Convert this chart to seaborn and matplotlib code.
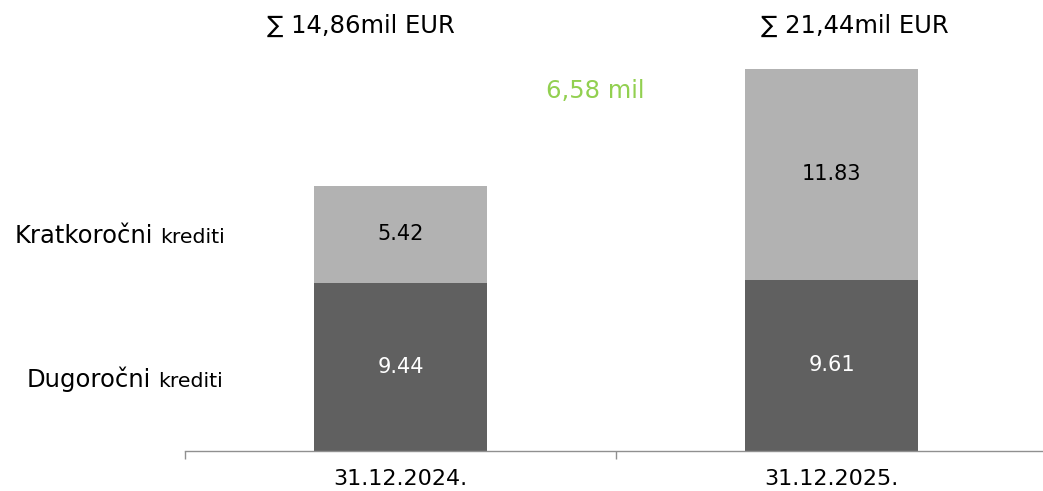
import matplotlib
matplotlib.use('Agg')
import matplotlib.pyplot as plt
import seaborn as sns
import pandas as pd

dates = ['31.12.2024.', '31.12.2025.']
dugorocni = [9.44, 9.61]
kratkorocni = [5.42, 11.83]
totals_txt = ['∑ 14,86mil EUR', '∑ 21,44mil EUR']
diff_txt = '6,58 mil'

dark = '#606060'
light = '#b2b2b2'
green = '#92d050'

df = pd.DataFrame({'date': dates, 'dugo': dugorocni, 'kratko': kratkorocni})
df['total'] = df['dugo'] + df['kratko']

sns.set_style('white')
plt.rcParams['font.family'] = ['DejaVu Sans']
plt.rcParams['text.color'] = 'black'
plt.rcParams['xtick.color'] = 'black'

fig = plt.figure(figsize=(10.43, 4.91), dpi=100)
ax = fig.add_axes([185/1043, 40/491, 862/1043, 451/491])

sns.barplot(data=df, x='date', y='total', color=light, width=0.4, saturation=1,
            linewidth=0, ax=ax)
sns.barplot(data=df, x='date', y='dugo', color=dark, width=0.4, saturation=1,
            linewidth=0, ax=ax)

ax.set_xlim(-0.5, 1.5)
ax.set_ylim(0, 451/17.83)
ax.set_xlabel('')
ax.set_ylabel('')
ax.set_yticks([])
for s in ['top', 'right', 'left']:
    ax.spines[s].set_visible(False)
ax.spines['bottom'].set_color('#909090')
ax.spines['bottom'].set_linewidth(1)
ax.set_xticks([-0.5, 0.5, 1.5], minor=True)
ax.tick_params(axis='x', which='minor', bottom=True, length=6, color='#909090', width=1)
ax.tick_params(axis='x', which='major', length=0, pad=13, labelsize=16, labelcolor='black')

# segment labels
for i, row in df.iterrows():
    ax.text(i, row['dugo'] / 2, f"{row['dugo']:.2f}", ha='center', va='center',
            fontsize=15, color='white')
    ax.text(i, row['dugo'] + row['kratko'] / 2, f"{row['kratko']:.2f}", ha='center',
            va='center', fontsize=15, color='black')

# totals
fig.text(361/1043, 1 - 33/491, totals_txt[0], ha='center', va='baseline', fontsize=17.5)
fig.text(855/1043, 1 - 33/491, totals_txt[1], ha='center', va='baseline', fontsize=17.5)
fig.text(595/1043, 1 - 98/491, diff_txt, ha='center', va='baseline', fontsize=17.5, color=green)

# series labels on the left
fig.text(153/1043, 1 - 243/491, 'Kratkoročni', ha='right', va='baseline', fontsize=17.5)
fig.text(160/1043, 1 - 243/491, 'krediti', ha='left', va='baseline', fontsize=14.7)
fig.text(151/1043, 1 - 387/491, 'Dugoročni', ha='right', va='baseline', fontsize=17.5)
fig.text(158/1043, 1 - 387/491, 'krediti', ha='left', va='baseline', fontsize=14.7)

fig.savefig('out.png', dpi=100)
